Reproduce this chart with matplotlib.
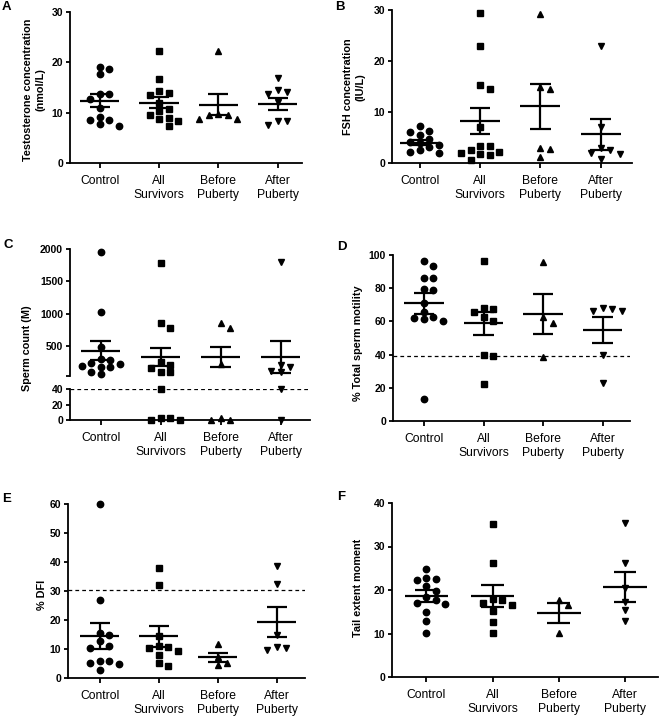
import numpy as np
import matplotlib.pyplot as plt

plt.rcParams['font.family'] = ['Liberation Sans', 'DejaVu Sans']

W, H = 660, 717
groups = ['Control', 'All\nSurvivors', 'Before\nPuberty', 'After\nPuberty']
marks = ['o', 's', '^', 'v']
msize = [4.6, 4.2, 5.0, 5.0]

# A testosterone (nmol/L)
testo = [[19.0, 18.6, 17.6, 13.7, 13.7, 12.7, 11.0, 9.2, 8.5, 8.5, 7.7, 7.3],
         [22.3, 16.7, 14.4, 13.9, 13.5, 11.9, 10.7, 10.3, 9.5, 9.0, 8.7, 8.3, 7.4],
         [22.2, 9.8, 9.6, 9.6, 8.8, 8.8],
         [16.9, 14.6, 14.2, 13.7, 12.2, 8.4, 8.4, 7.6]]
testo_mean = [12.4, 12.0, 11.6, 11.8]
testo_sem = [1.25, 1.15, 2.1, 1.2]

# B FSH (IU/L)
fsh = [[7.3, 6.2, 6.0, 5.5, 4.8, 4.2, 4.0, 3.5, 3.2, 2.6, 2.2, 2.0],
       [29.4, 22.9, 15.2, 14.6, 7.0, 3.3, 3.3, 2.6, 2.1, 2.0, 1.8, 1.6, 0.5],
       [29.3, 15.0, 14.5, 3.0, 2.8, 1.2],
       [23.0, 7.0, 3.0, 2.5, 2.0, 1.8, 0.8]]
fsh_mean = [4.0, 8.2, 11.1, 5.6]
fsh_sem = [0.5, 2.6, 4.4, 3.0]

# C sperm count (M)
sperm = [[1950, 1035, 485, 305, 290, 240, 230, 200, 185, 175, 100, 76],
         [1790, 860, 775, 255, 214, 163, 102, 100, 40, 0, 0, 2, 3],
         [852, 775, 230, 2.5, 0, 0],
         [1800, 214, 180, 112, 95, 40, 0]]
sperm_mean = [433, 332, 332, 337]
sperm_sem = [153, 140, 160, 245]

# D total motility (%)
motil = [[96.1, 93.1, 86.1, 86.1, 79.4, 79.0, 71.0, 65.9, 62.9, 62.3, 61.3, 60.3, 13.5],
         [96.2, 68.0, 67.3, 65.6, 62.5, 60.5, 39.7, 39.3, 22.4],
         [95.8, 62.5, 59.3, 38.7],
         [68.3, 67.5, 66.5, 66.0, 40.0, 23.0]]
motil_mean = [71.0, 58.8, 64.5, 55.0]
motil_sem = [6.3, 6.8, 11.8, 7.8]

# E DFI (%)
dfi = [[60.0, 27.0, 15.4, 14.9, 12.9, 11.2, 10.5, 6.0, 5.8, 5.3, 4.8, 2.8],
       [38.1, 32.1, 14.5, 11.1, 10.8, 10.5, 9.4, 7.8, 5.3, 4.3],
       [11.6, 7.4, 5.3, 4.5],
       [38.5, 32.5, 15.0, 10.8, 10.5, 9.7]]
dfi_mean = [14.6, 14.4, 7.1, 19.3]
dfi_sem = [4.5, 3.7, 1.6, 5.1]

# F tail extent moment
tail = [[24.8, 22.8, 22.6, 22.3, 20.9, 19.8, 18.4, 17.6, 16.9, 16.8, 14.9, 12.8, 10.1],
        [35.2, 26.1, 18.0, 17.7, 16.9, 16.6, 15.1, 12.6, 10.2],
        [17.6, 16.5, 10.1],
        [35.5, 26.2, 20.5, 17.2, 15.3, 12.8]]
tail_mean = [18.6, 18.7, 14.7, 20.7]
tail_sem = [1.4, 2.5, 2.3, 3.5]


def box(left, top, right, bottom):
    return [left / W, 1 - bottom / H, (right - left) / W, (bottom - top) / H]


def swarm(vals, ppu_y, step_px=9.5, dia=7.0):
    # place each point at the nearest free slot (0, +1, -1, +2, ...) so markers don't overlap
    ypx = np.asarray(vals, float) * ppu_y
    order = np.argsort(-ypx, kind='stable')
    placed = []
    slots = np.zeros(len(ypx))
    for idx in order:
        for k in range(40):
            c = ((k + 1) // 2) * (1 if k % 2 else -1)
            x = c * step_px
            if all(np.hypot(x - px, ypx[idx] - py) >= dia for px, py in placed):
                break
        placed.append((x, ypx[idx]))
        slots[idx] = c
    return slots * step_px


def points(ax, i, vals):
    if len(vals) == 0:
        return
    pos = ax.get_position()
    xl, yl = ax.get_xlim(), ax.get_ylim()
    ppu_x = pos.width * W / (xl[1] - xl[0])
    ppu_y = pos.height * H / (yl[1] - yl[0])
    offs = swarm(vals, ppu_y) / ppu_x
    ax.plot(i + offs, vals, ls='none', marker=marks[i], ms=msize[i],
            color='k', mec='k', clip_on=False, zorder=3)


def summary(ax, i, m, s):
    kw = dict(color='k', lw=1.6, solid_capstyle='butt', clip_on=False, zorder=4)
    ax.plot([i - 0.33, i + 0.33], [m, m], **kw)
    ax.plot([i, i], [m - s, m + s], **kw)
    ax.plot([i - 0.17, i + 0.17], [m + s, m + s], **kw)
    ax.plot([i - 0.17, i + 0.17], [m - s, m - s], **kw)


def style(ax, xlim, ylim, yticks):
    ax.spines['top'].set_visible(False)
    ax.spines['right'].set_visible(False)
    ax.spines['left'].set_linewidth(1.3)
    ax.spines['bottom'].set_linewidth(1.3)
    ax.set_xlim(xlim)
    ax.set_ylim(ylim)
    ax.set_yticks(yticks)
    ax.set_xticks(range(4))
    ax.set_xticklabels(groups, fontsize=8.7)
    ax.tick_params(axis='y', direction='out', length=3, width=1.3, pad=2, labelsize=7.5)
    ax.tick_params(axis='x', direction='out', length=3.5, width=1.3, pad=5)
    for t in ax.get_yticklabels():
        t.set_fontweight('bold')
    ax.patch.set_alpha(0)


def panel(ax, data, mean, sem):
    for i in range(4):
        points(ax, i, data[i])
        summary(ax, i, mean[i], sem[i])


fig = plt.figure(figsize=(W / 100, H / 100), dpi=100)

dash = dict(color='k', lw=0.9, ls=(0, (3, 2.5)), zorder=1)

# A
axA = fig.add_axes(box(70, 12, 302, 163))
style(axA, (-0.5, 3.41), (0, 30), [0, 10, 20, 30])
panel(axA, testo, testo_mean, testo_sem)

# B
axB = fig.add_axes(box(392, 10, 632, 163))
style(axB, (-0.46, 3.52), (0, 30), [0, 10, 20, 30])
panel(axB, fsh, fsh_mean, fsh_sem)

# C broken axis
axCu = fig.add_axes(box(70, 249, 310, 376))
axCl = fig.add_axes(box(70, 388.5, 310, 420))
style(axCu, (-0.51, 3.49), (40, 2000), [40, 500, 1000, 1500, 2000])
axCu.set_yticklabels(['', '500', '1000', '1500', '2000'])
axCu.spines['bottom'].set_visible(False)
axCu.tick_params(axis='x', bottom=False, labelbottom=False)
style(axCl, (-0.51, 3.49), (0, 41), [0, 20, 40])
axCl.axhline(40, **dash)
for i in range(4):
    hi = [v for v in sperm[i] if v > 40]
    lo = [v for v in sperm[i] if v <= 40]
    points(axCu, i, hi)
    points(axCl, i, lo)
    summary(axCu, i, sperm_mean[i], sperm_sem[i])

# D
axD = fig.add_axes(box(393, 255, 630, 421))
style(axD, (-0.52, 3.46), (0, 100), [0, 20, 40, 60, 80, 100])
axD.axhline(39.3, **dash)
panel(axD, motil, motil_mean, motil_sem)

# E
axE = fig.add_axes(box(68, 504, 305, 678))
style(axE, (-0.54, 3.48), (0, 60), [0, 10, 20, 30, 40, 50, 60])
axE.axhline(30.5, **dash)
panel(axE, dfi, dfi_mean, dfi_sem)

# F
axF = fig.add_axes(box(392, 503, 658, 677))
style(axF, (-0.52, 3.5), (0, 40), [0, 10, 20, 30, 40])
panel(axF, tail, tail_mean, tail_sem)

# y labels
ylab = [('Testosterone concentration\n(nmol/L)', 34, 90),
        ('FSH concentration\n(IU/L)', 354, 87),
        ('Sperm count (M)', 27, 348),
        ('% Total sperm motility', 358, 343),
        ('% DFI', 42, 595),
        ('Tail extent moment', 358, 588)]
for txt, x, y in ylab:
    fig.text(x / W, 1 - y / H, txt, rotation=90, ha='center', va='center',
             fontsize=7.8, fontweight='bold', linespacing=1.25)

# panel letters
letters = [('A', 2, 7), ('B', 335, 7), ('C', 3, 245), ('D', 337, 247), ('E', 2, 499), ('F', 337, 497)]
for lab, x, y in letters:
    fig.text(x / W, 1 - y / H, lab, ha='left', va='center', fontsize=9.5, fontweight='bold')

fig.savefig('out.png', dpi=100)
